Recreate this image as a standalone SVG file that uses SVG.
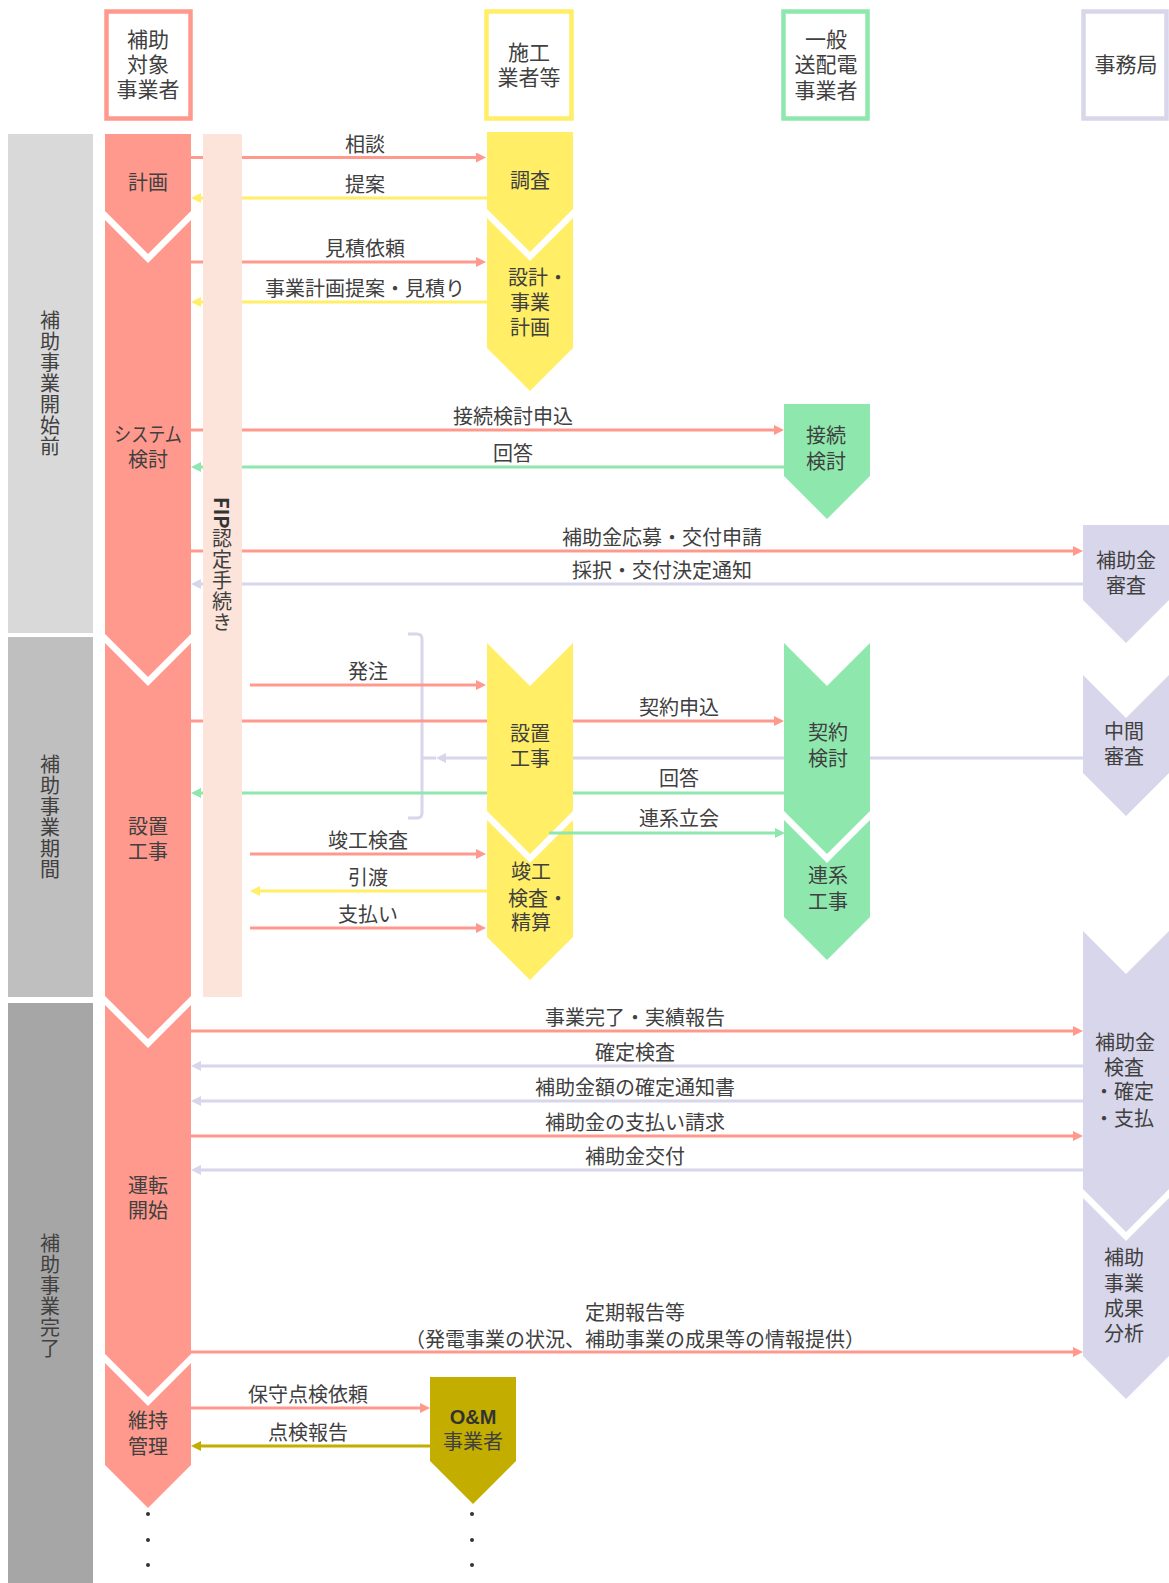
<svg xmlns="http://www.w3.org/2000/svg" width="1169" height="1583" viewBox="0 0 1169 1583">
<style>
.t{font-family:"Liberation Sans","Noto Sans CJK JP",sans-serif;font-size:20px;fill:#404040;text-anchor:middle}
.v{font-family:"Noto Sans CJK JP",sans-serif;writing-mode:vertical-rl;letter-spacing:1px}
.h{font-size:21px}
.s{text-anchor:start}
.bd{font-weight:700;fill:#333}
.pk{fill:#FF998D}.yl{fill:#FFEE66}.gr{fill:#8EE8AD}.lv{fill:#D8D6EA}.ol{fill:#C3AE00}
.hb{fill:#fff;stroke-width:4.5}
.c{fill:none;stroke-width:3}
.cp{stroke:#FF998D}.cy{stroke:#FFEE66}.cg{stroke:#8EE8AD}.cl{stroke:#D8D6EA}.co{stroke:#C3AE00}
</style>
<defs>
<marker id="ap" markerUnits="userSpaceOnUse" markerWidth="10" markerHeight="10" refX="5" refY="5" orient="auto"><path d="M0,0 L10,5 L0,10 z" fill="#FF998D"/></marker>
<marker id="ay" markerUnits="userSpaceOnUse" markerWidth="10" markerHeight="10" refX="5" refY="5" orient="auto"><path d="M0,0 L10,5 L0,10 z" fill="#FFEE66"/></marker>
<marker id="ag" markerUnits="userSpaceOnUse" markerWidth="10" markerHeight="10" refX="5" refY="5" orient="auto"><path d="M0,0 L10,5 L0,10 z" fill="#8EE8AD"/></marker>
<marker id="al" markerUnits="userSpaceOnUse" markerWidth="10" markerHeight="10" refX="5" refY="5" orient="auto"><path d="M0,0 L10,5 L0,10 z" fill="#D8D6EA"/></marker>
<marker id="ao" markerUnits="userSpaceOnUse" markerWidth="10" markerHeight="10" refX="5" refY="5" orient="auto"><path d="M0,0 L10,5 L0,10 z" fill="#C3AE00"/></marker>
</defs>
<rect width="1169" height="1583" fill="#fff"/>

<!-- phase bands -->
<g id="band-before">
<rect x="8" y="134" width="85" height="499" fill="#D9D9D9"/>
<text class="t v" x="50" y="384" fill="#505050">補助事業開始前</text>
</g>
<g id="band-during">
<rect x="8" y="637" width="85" height="360" fill="#BFBFBF"/>
<text class="t v" x="50" y="817">補助事業期間</text>
</g>
<g id="band-after">
<rect x="8" y="1003" width="85" height="580" fill="#A6A6A6"/>
<text class="t v" x="50" y="1296">補助事業完了</text>
</g>

<!-- headers -->
<g id="hdr-applicant">
<rect class="hb" x="106.5" y="11.5" width="84" height="107" stroke="#FF998D"/>
<text class="t h"><tspan x="148" y="46.5">補助</tspan><tspan x="148" y="71.5">対象</tspan><tspan x="148" y="97">事業者</tspan></text>
</g>
<g id="hdr-contractor">
<rect class="hb" x="486.5" y="11.5" width="85" height="107" stroke="#FFEE66"/>
<text class="t h"><tspan x="529" y="60">施工</tspan><tspan x="529" y="85">業者等</tspan></text>
</g>
<g id="hdr-grid">
<rect class="hb" x="783.5" y="11.5" width="84" height="107" stroke="#8EE8AD"/>
<text class="t h"><tspan x="826" y="46.5">一般</tspan><tspan x="826" y="72">送配電</tspan><tspan x="826" y="97.5">事業者</tspan></text>
</g>
<g id="hdr-office">
<rect class="hb" x="1083.5" y="11.5" width="83" height="107" stroke="#D8D6EA"/>
<text class="t h" x="1126" y="71.5">事務局</text>
</g>

<!-- applicant column -->
<g id="n-plan"><path class="pk" d="M105,134 H191 V211 L148,254 L105,211 Z"/><text class="t" x="148" y="190">計画</text></g>
<g id="n-system"><path class="pk" d="M105,220 L148,263 L191,220 V634 L148,677 L105,634 Z"/><text class="t"><tspan x="114" y="442" class="s" textLength="68" lengthAdjust="spacingAndGlyphs">システム</tspan><tspan x="148" y="467">検討</tspan></text></g>
<g id="n-install-a"><path class="pk" d="M105,643 L148,686 L191,643 V996 L148,1039 L105,996 Z"/><text class="t"><tspan x="148" y="833.5">設置</tspan><tspan x="148" y="859">工事</tspan></text></g>
<g id="n-operation"><path class="pk" d="M105,1005 L148,1048 L191,1005 V1354 L148,1397 L105,1354 Z"/><text class="t"><tspan x="148" y="1193">運転</tspan><tspan x="148" y="1218">開始</tspan></text></g>
<g id="n-maintain"><path class="pk" d="M105,1363 L148,1406 L191,1363 V1465 L148,1508 L105,1465 Z"/><text class="t"><tspan x="148" y="1428">維持</tspan><tspan x="148" y="1454">管理</tspan></text>
<circle cx="148" cy="1514" r="2" fill="#333"/><circle cx="148" cy="1540" r="2" fill="#333"/><circle cx="148" cy="1565" r="2" fill="#333"/></g>

<!-- contractor column -->
<g id="n-survey"><path class="yl" d="M487,132 H573 V209 L530,252 L487,209 Z"/><text class="t" x="530" y="187.5">調査</text></g>
<g id="n-design"><path class="yl" d="M487,218 L530,261 L573,218 V348 L530,391 L487,348 Z"/><text class="t"><tspan class="s" x="508" y="284.5">設計・</tspan><tspan x="530" y="309.5">事業</tspan><tspan x="530" y="335">計画</tspan></text></g>
<g id="n-install-c"><path class="yl" d="M487,643 L530,686 L573,643 V811 L530,854 L487,811 Z"/><text class="t"><tspan x="530" y="741">設置</tspan><tspan x="530" y="766">工事</tspan></text></g>
<g id="n-inspect"><path class="yl" d="M487,820 L530,863 L573,820 V937 L530,980 L487,937 Z"/><text class="t"><tspan x="531" y="879">竣工</tspan><tspan class="s" x="508" y="906">検査・</tspan><tspan x="531" y="930">精算</tspan></text></g>

<!-- grid operator column -->
<g id="n-connect"><path class="gr" d="M784,404 H870 V476 L827,519 L784,476 Z"/><text class="t"><tspan x="826" y="443">接続</tspan><tspan x="826" y="469">検討</tspan></text></g>
<g id="n-contract"><path class="gr" d="M784,643 L827,686 L870,643 V811 L827,854 L784,811 Z"/><text class="t"><tspan x="828" y="740">契約</tspan><tspan x="828" y="766">検討</tspan></text></g>
<g id="n-gridwork"><path class="gr" d="M784,820 L827,863 L870,820 V917 L827,960 L784,917 Z"/><text class="t"><tspan x="828" y="883">連系</tspan><tspan x="828" y="909">工事</tspan></text></g>

<!-- office column -->
<g id="n-review"><path class="lv" d="M1083,525 H1169 V600 L1126,643 L1083,600 Z"/><text class="t"><tspan x="1126" y="568">補助金</tspan><tspan x="1126" y="593">審査</tspan></text></g>
<g id="n-midreview"><path class="lv" d="M1083,675 L1126,718 L1169,675 V773 L1126,816 L1083,773 Z"/><text class="t"><tspan x="1124" y="739">中間</tspan><tspan x="1124" y="764">審査</tspan></text></g>
<g id="n-final"><path class="lv" d="M1083,931 L1126,974 L1169,931 V1189 L1126,1232 L1083,1189 Z"/><text class="t"><tspan x="1125" y="1050">補助金</tspan><tspan x="1124" y="1074.5">検査</tspan><tspan x="1124" y="1099">・確定</tspan><tspan x="1124" y="1126">・支払</tspan></text></g>
<g id="n-analysis"><path class="lv" d="M1083,1198 L1126,1241 L1169,1198 V1356 L1126,1399 L1083,1356 Z"/><text class="t"><tspan x="1124" y="1264.5">補助</tspan><tspan x="1124" y="1290.5">事業</tspan><tspan x="1124" y="1315.5">成果</tspan><tspan x="1124" y="1341">分析</tspan></text></g>

<!-- O&M -->
<g id="n-om"><path class="ol" d="M430,1377 H516 V1461 L473,1504 L430,1461 Z"/><text class="t bd" x="473" y="1424">O&amp;M</text><text class="t" x="473" y="1449">事業者</text>
<circle cx="472" cy="1514" r="2" fill="#333"/><circle cx="472" cy="1540" r="2" fill="#333"/><circle cx="472" cy="1565" r="2" fill="#333"/></g>

<!-- connectors -->
<g id="connectors">
<path class="c cp" d="M191,157.5 H481" marker-end="url(#ap)"/>
<path class="c cy" d="M487,198 H196" marker-end="url(#ay)"/>
<path class="c cp" d="M191,262 H481" marker-end="url(#ap)"/>
<path class="c cy" d="M487,302 H196" marker-end="url(#ay)"/>
<path class="c cp" d="M191,430 H779" marker-end="url(#ap)"/>
<path class="c cg" d="M784,467 H196" marker-end="url(#ag)"/>
<path class="c cp" d="M191,551 H1078" marker-end="url(#ap)"/>
<path class="c cl" d="M1083,584 H196" marker-end="url(#al)"/>
<path class="c cl" stroke-width="2.5" d="M408,634 H417 Q422,634 422,639 V813 Q422,818 417,818 H408 M422,758 H436"/>
<path class="c cp" d="M250,685 H481" marker-end="url(#ap)"/>
<path class="c cp" d="M191,721 H487 M573,721 H779" marker-end="url(#ap)"/>
<path class="c cl" d="M1083,758 H870 M784,758 H573 M487,758 H441" marker-end="url(#al)"/>
<path class="c cg" d="M784,793 H573 M487,793 H196" marker-end="url(#ag)"/>
<path class="c cg" d="M549,833 H780" marker-end="url(#ag)"/>
<path class="c cp" d="M250,854 H481" marker-end="url(#ap)"/>
<path class="c cy" d="M487,891 H255" marker-end="url(#ay)"/>
<path class="c cp" d="M250,928 H481" marker-end="url(#ap)"/>
<path class="c cp" d="M191,1031 H1078" marker-end="url(#ap)"/>
<path class="c cl" d="M1083,1066 H196" marker-end="url(#al)"/>
<path class="c cl" d="M1083,1101 H196" marker-end="url(#al)"/>
<path class="c cp" d="M191,1136 H1078" marker-end="url(#ap)"/>
<path class="c cl" d="M1083,1170 H196" marker-end="url(#al)"/>
<path class="c cp" d="M191,1352 H1078" marker-end="url(#ap)"/>
<path class="c cp" d="M191,1408 H425" marker-end="url(#ap)"/>
<path class="c co" d="M430,1446 H196" marker-end="url(#ao)"/>
<text class="t" x="365" y="151.5">相談</text>
<text class="t" x="365" y="192">提案</text>
<text class="t" x="365" y="256">見積依頼</text>
<text class="t" x="365" y="296">事業計画提案・見積り</text>
<text class="t" x="513" y="424">接続検討申込</text>
<text class="t" x="513" y="461">回答</text>
<text class="t" x="662" y="545">補助金応募・交付申請</text>
<text class="t" x="662" y="578">採択・交付決定通知</text>
<text class="t" x="368" y="679">発注</text>
<text class="t" x="679" y="714.5">契約申込</text>
<text class="t" x="679" y="786">回答</text>
<text class="t" x="679" y="826">連系立会</text>
<text class="t" x="368" y="848">竣工検査</text>
<text class="t" x="368" y="885">引渡</text>
<text class="t" x="368" y="922">支払い</text>
<text class="t" x="635" y="1025">事業完了・実績報告</text>
<text class="t" x="635" y="1060">確定検査</text>
<text class="t" x="635" y="1095">補助金額の確定通知書</text>
<text class="t" x="635" y="1130">補助金の支払い請求</text>
<text class="t" x="635" y="1164">補助金交付</text>
<text class="t" x="635" y="1320">定期報告等</text>
<text class="t" x="635" y="1347">（発電事業の状況、補助事業の成果等の情報提供）</text>
<text class="t" x="308" y="1402">保守点検依頼</text>
<text class="t" x="308" y="1440">点検報告</text>
</g>

<!-- FIP procedure band -->
<g id="n-fip">
<rect x="203" y="134" width="39" height="863" fill="#FDE4DA"/>
<text class="t v s" x="222" y="497"><tspan font-weight="700" fill="#333" letter-spacing="0">FIP</tspan>認定手続き</text>
</g>
</svg>
